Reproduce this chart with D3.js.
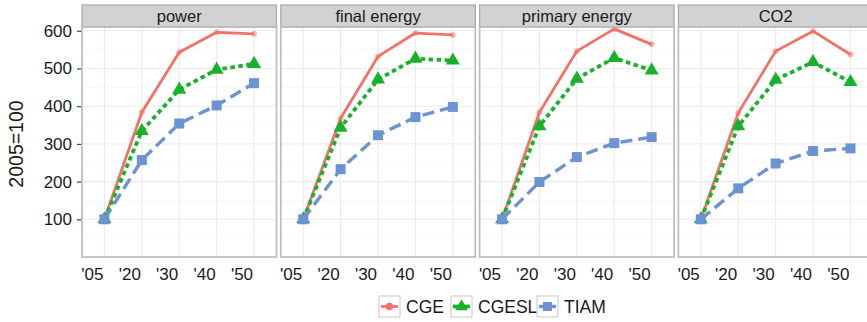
<!DOCTYPE html>
<html><head><meta charset="utf-8">
<script src="https://cdn.jsdelivr.net/npm/d3@7"></script>
<style>
html,body{margin:0;padding:0;background:#fff;}
svg{display:block;font-family:"Liberation Sans",Arial,Helvetica,sans-serif;}
</style></head>
<body><svg id="chart" width="867" height="322"></svg>
<script>
// ---- data ----
const categories = ["'05", "'20", "'30", "'40", "'50"];
const facets = ["power", "final energy", "primary energy", "CO2"];
const seriesNames = ["CGE", "CGESL", "TIAM"];
const yTicks = [100, 200, 300, 400, 500, 600];

const cgePower   = [100, 384, 543, 596, 592];
const cgeFinal   = [100, 368, 532, 594, 589];
const cgePrimary = [100, 384, 546, 605, 564];
const cgeCO2     = [100, 382, 546, 599, 537];

const cgeslPower   = [100, 334, 444, 497, 512];
const cgeslFinal   = [100, 343, 471, 526, 521];
const cgeslPrimary = [100, 347, 473, 528, 495];
const cgeslCO2     = [100, 347, 470, 517, 464];

const tiamPower   = [100, 257, 354, 402, 461];
const tiamFinal   = [100, 233, 323, 371, 398];
const tiamPrimary = [100, 199, 265, 302, 318];
const tiamCO2     = [100, 182, 248, 281, 288];

const facetData = [
  {name: facets[0], CGE: cgePower,   CGESL: cgeslPower,   TIAM: tiamPower},
  {name: facets[1], CGE: cgeFinal,   CGESL: cgeslFinal,   TIAM: tiamFinal},
  {name: facets[2], CGE: cgePrimary, CGESL: cgeslPrimary, TIAM: tiamPrimary},
  {name: facets[3], CGE: cgeCO2,     CGESL: cgeslCO2,     TIAM: tiamCO2}
];

// ---- styles ----
const colors = {CGE: "#F4716A", CGESL: "#17B12A", TIAM: "#6C93D3"};
const dashes = {CGE: null, CGESL: "4.5,3.5", TIAM: "12,6"};
const widths = {CGE: 2.8, CGESL: 3.8, TIAM: 3.4};

const svg = d3.select("#chart");
const panelW = 194.5, gap = 4.3, panelLeft = 82;
const stripTop = 5, stripBottom = 27, panelTop = 27, panelBottom = 257;

const y = d3.scaleLinear().domain([0, 610]).range([panelBottom, panelTop]);
const minorTicks = [50, 150, 250, 350, 450, 550];

// y axis title
svg.append("text")
  .attr("transform", `translate(23,${(panelTop + panelBottom) / 2 + 2}) rotate(-90)`)
  .attr("text-anchor", "middle")
  .style("font-size", "19.5px").attr("fill", "#1a1a1a")
  .text("2005=100");

// y axis ticks + labels
const yAxis = d3.axisLeft(y).tickValues(yTicks).tickSize(5).tickPadding(5);
const yg = svg.append("g").attr("transform", `translate(${panelLeft},0)`).call(yAxis);
yg.select(".domain").remove();
yg.selectAll(".tick line").attr("stroke", "#444").attr("stroke-width", 1.2);
yg.selectAll(".tick text").style("font-size", "17px").attr("fill", "#1a1a1a")
  .style("font-family", "'Liberation Sans',Arial,sans-serif");

facetData.forEach((fd, i) => {
  const x0 = panelLeft + i * (panelW + gap);
  const x = d3.scalePoint().domain(categories).range([x0, x0 + panelW]).padding(0.6);
  const g = svg.append("g");

  // panel bg
  g.append("rect").attr("x", x0).attr("y", panelTop).attr("width", panelW)
    .attr("height", panelBottom - panelTop).attr("fill", "#fff");
  // minor grid
  g.selectAll(".ymin").data(minorTicks).enter().append("line")
    .attr("x1", x0).attr("x2", x0 + panelW).attr("y1", d => y(d)).attr("y2", d => y(d))
    .attr("stroke", "#f4f4f4").attr("stroke-width", 0.6);
  // major grid
  g.selectAll(".ymaj").data(yTicks).enter().append("line")
    .attr("x1", x0).attr("x2", x0 + panelW).attr("y1", d => y(d)).attr("y2", d => y(d))
    .attr("stroke", "#ebebeb").attr("stroke-width", 1.1);
  g.selectAll(".xmaj").data(categories).enter().append("line")
    .attr("x1", d => x(d)).attr("x2", d => x(d)).attr("y1", panelTop).attr("y2", panelBottom)
    .attr("stroke", "#ebebeb").attr("stroke-width", 1.1);

  // strip
  g.append("rect").attr("x", x0).attr("y", stripTop).attr("width", panelW)
    .attr("height", stripBottom - stripTop).attr("fill", "#d2d2d2")
    .attr("stroke", "#ababab").attr("stroke-width", 1.3);
  g.append("text").attr("x", x0 + panelW / 2).attr("y", (stripTop + stripBottom) / 2 + 6)
    .attr("text-anchor", "middle").style("font-size", "16.5px").attr("fill", "#1a1a1a")
    .text(fd.name);

  // lines
  seriesNames.forEach(s => {
    const line = d3.line().x((v, j) => x(categories[j])).y(v => y(v));
    g.append("path").datum(fd[s]).attr("d", line).attr("fill", "none")
      .attr("stroke", colors[s]).attr("stroke-width", widths[s])
      .attr("stroke-dasharray", dashes[s]).attr("stroke-linejoin", "round");
  });
  // points
  seriesNames.forEach(s => {
    fd[s].forEach((v, j) => {
      const cx = x(categories[j]), cy = y(v);
      if (s === "CGE") {
        g.append("circle").attr("cx", cx).attr("cy", cy).attr("r", 3)
          .attr("fill", colors[s]).attr("fill-opacity", 0.5);
      } else if (s === "CGESL") {
        g.append("path").attr("transform", `translate(${cx},${cy})`)
          .attr("d", d3.symbol(d3.symbolTriangle, 85)()).attr("fill", colors[s]);
      } else {
        g.append("rect").attr("x", cx - 5).attr("y", cy - 5).attr("width", 10).attr("height", 10)
          .attr("fill", colors[s]);
      }
    });
  });

  // panel border
  g.append("rect").attr("x", x0).attr("y", panelTop).attr("width", panelW)
    .attr("height", panelBottom - panelTop).attr("fill", "none")
    .attr("stroke", "#bdbdbd").attr("stroke-width", 1.7);

  // x labels (right aligned at tick)
  g.selectAll(".xl").data(categories).enter().append("text")
    .attr("x", d => x(d) - 1).attr("y", 280).attr("text-anchor", "end")
    .style("font-size", "17px").attr("fill", "#1a1a1a").text(d => d);
});

// legend
const legendItems = [
  {name: "CGE", bx: 379},
  {name: "CGESL", bx: 451},
  {name: "TIAM", bx: 537}
];
const lg = svg.append("g");
legendItems.forEach(it => {
  const s = it.name, bx = it.bx, by = 296, bs = 21;
  lg.append("rect").attr("x", bx).attr("y", by).attr("width", bs).attr("height", bs)
    .attr("fill", "#fff").attr("stroke", "#d0d0d0").attr("stroke-width", 1.2);
  lg.append("line").attr("x1", bx + 2).attr("x2", bx + bs - 2)
    .attr("y1", by + bs / 2).attr("y2", by + bs / 2)
    .attr("stroke", colors[s]).attr("stroke-width", widths[s]);
  const cx = bx + bs / 2, cy = by + bs / 2;
  if (s === "CGE") {
    lg.append("circle").attr("cx", cx).attr("cy", cy).attr("r", 3.8).attr("fill", colors[s]);
  } else if (s === "CGESL") {
    lg.append("path").attr("transform", `translate(${cx},${cy})`)
      .attr("d", d3.symbol(d3.symbolTriangle, 70)()).attr("fill", colors[s]);
  } else {
    lg.append("rect").attr("x", cx - 4.5).attr("y", cy - 4.5).attr("width", 9).attr("height", 9)
      .attr("fill", colors[s]);
  }
  lg.append("text").attr("x", bx + bs + 6).attr("y", by + bs / 2 + 6.5)
    .style("font-size", "17.5px").attr("fill", "#1a1a1a").text(s);
});
</script></body></html>
